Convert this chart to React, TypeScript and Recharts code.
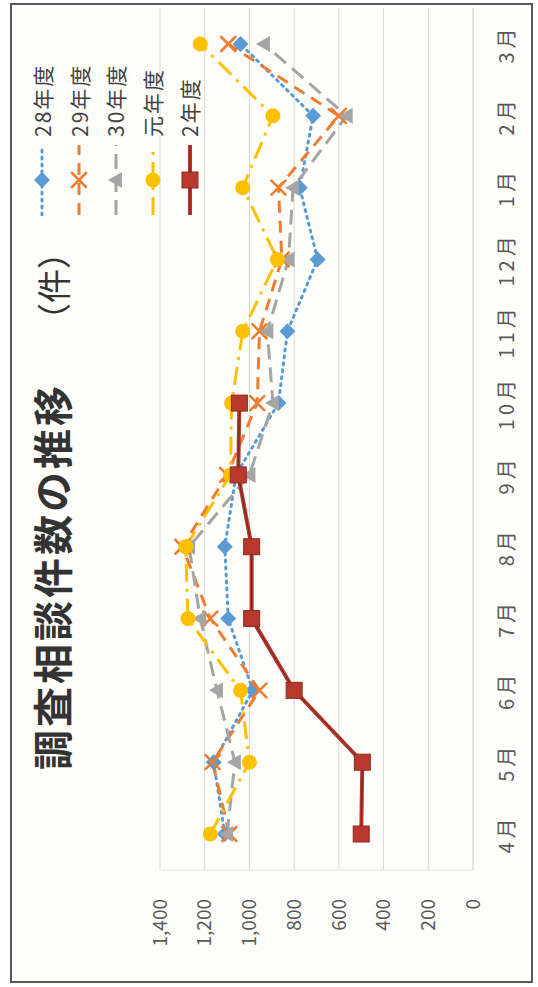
import { LineChart, Line, XAxis, YAxis, CartesianGrid } from "recharts";

// The scanned chart is rotated 90deg counter-clockwise, so it is drawn
// upright at 987x538 and then turned to fit the 538x987 page.
const W = 987;
const H = 538;
const FONT = "'Noto Sans CJK JP', 'Noto Sans', sans-serif";

const MONTHS = ["4月", "5月", "6月", "7月", "8月", "9月", "10月", "11月", "12月", "1月", "2月", "3月"];
const Y_TICKS = [0, 200, 400, 600, 800, 1000, 1200, 1400];

const FY28 = [1110, 1160, 985, 1095, 1110, 1060, 870, 830, 695, 775, 715, 1040];
const FY29 = [1090, 1165, 955, 1175, 1300, 1100, 965, 955, 855, 870, 600, 1095];
const FY30 = [1100, 1065, 1145, 1220, 1270, 1000, 895, 920, 825, 805, 565, 935];
const R1 = [1175, 1000, 1040, 1275, 1285, 1085, 1080, 1030, 875, 1030, 895, 1220];
const R2 = [500, 495, 800, 990, 990, 1050, 1045, null, null, null, null, null];

type Marker = "diamond" | "x" | "triangle" | "circle" | "square";

const SERIES: {
  key: string;
  name: string;
  color: string;
  dash?: string;
  width: number;
  marker: Marker;
}[] = [
  { key: "fy28", name: "28年度", color: "#5B9BD5", dash: "2 5", width: 3, marker: "diamond" },
  { key: "fy29", name: "29年度", color: "#ED7D31", dash: "12 8", width: 3, marker: "x" },
  { key: "fy30", name: "30年度", color: "#A5A5A5", dash: "15 8", width: 3, marker: "triangle" },
  { key: "r1", name: "元年度", color: "#FFC000", dash: "18 7 3 7", width: 3, marker: "circle" },
  { key: "r2", name: "2年度", color: "#B8382D", width: 4, marker: "square" },
];

const rows = MONTHS.map((month, i) => ({
  month,
  fy28: FY28[i],
  fy29: FY29[i],
  fy30: FY30[i],
  r1: R1[i],
  r2: R2[i],
}));

function markerShape(kind: Marker, color: string, cx: number, cy: number) {
  switch (kind) {
    case "diamond":
      return (
        <polygon
          points={`${cx},${cy - 8} ${cx + 8},${cy} ${cx},${cy + 8} ${cx - 8},${cy}`}
          fill={color}
        />
      );
    case "x":
      return (
        <g stroke={color} strokeWidth={2.6} strokeLinecap="round">
          <line x1={cx - 7} y1={cy - 7} x2={cx + 7} y2={cy + 7} />
          <line x1={cx - 7} y1={cy + 7} x2={cx + 7} y2={cy - 7} />
        </g>
      );
    case "triangle":
      return (
        <polygon
          points={`${cx},${cy - 8} ${cx + 8},${cy + 6} ${cx - 8},${cy + 6}`}
          fill={color}
        />
      );
    case "circle":
      return <circle cx={cx} cy={cy} r={7.5} fill={color} />;
    default:
      return (
        <rect
          x={cx - 8}
          y={cy - 8}
          width={16}
          height={16}
          fill={color}
          stroke="#8C2A22"
          strokeWidth={1}
        />
      );
  }
}

function makeDot(kind: Marker, color: string) {
  // eslint-disable-next-line @typescript-eslint/no-explicit-any
  return (props: any) => {
    const { cx, cy, index, value } = props;
    if (value == null || cx == null || cy == null) return <g key={index} />;
    return <g key={index}>{markerShape(kind, color, cx, cy)}</g>;
  };
}

// eslint-disable-next-line @typescript-eslint/no-explicit-any
function MonthTick(props: any) {
  const { x, y, payload } = props;
  return (
    <text
      x={x}
      y={y}
      dy="0.71em"
      textAnchor="middle"
      fill="#595959"
      fontSize={20}
      fontFamily={FONT}
      letterSpacing={4}
    >
      {payload.value}
    </text>
  );
}

function LegendBox() {
  return (
    <div style={{ position: "absolute", left: 771, top: 24 }}>
      {SERIES.map((s) => (
        <div
          key={s.key}
          style={{ display: "flex", alignItems: "center", height: 36.8 }}
        >
          <svg width={74} height={24} style={{ display: "block" }}>
            <line
              x1={1}
              y1={12}
              x2={71}
              y2={12}
              stroke={s.color}
              strokeWidth={s.width}
              strokeDasharray={s.dash}
              strokeLinecap={s.marker === "diamond" ? "round" : "butt"}
            />
            {s.marker === "square" && (
              <line x1={1} y1={12} x2={71} y2={12} stroke="#6E2520" strokeWidth={1} />
            )}
            {markerShape(s.marker, s.color, 36, 12)}
          </svg>
          <span
            style={{
              marginLeft: 5,
              fontSize: 21,
              letterSpacing: 2,
              color: "#404040",
              lineHeight: 1,
              whiteSpace: "nowrap",
            }}
          >
            {s.name}
          </span>
        </div>
      ))}
    </div>
  );
}

export default function App() {
  return (
    <div
      style={{
        position: "absolute",
        left: 0,
        top: 0,
        width: W,
        height: H,
        background: "#fff",
        transformOrigin: "0 0",
        transform: `translate(0px, ${W}px) rotate(-90deg)`,
        fontFamily: FONT,
      }}
    >
      <style>{`body { margin: 0; overflow: hidden; }`}</style>

      {/* frame */}
      <div
        style={{
          position: "absolute",
          left: 4,
          top: 10,
          width: 976,
          height: 519,
          border: "2px solid #5a5a5a",
          background: "#fdfdfa",
        }}
      />

      {/* title */}
      <div
        style={{
          position: "absolute",
          left: 217,
          top: 31,
          fontSize: 40,
          fontWeight: 700,
          letterSpacing: 3,
          lineHeight: 1,
          color: "#333",
          whiteSpace: "nowrap",
        }}
      >
        調査相談件数の推移
      </div>
      <div
        style={{
          position: "absolute",
          left: 650,
          top: 36,
          fontSize: 34,
          lineHeight: 1,
          color: "#333",
          whiteSpace: "nowrap",
        }}
      >
        （件）
      </div>

      <div style={{ position: "absolute", left: 0, top: 0 }}>
        <LineChart
          width={W}
          height={H}
          data={rows}
          margin={{ top: 160, right: 8, bottom: 0, left: 0 }}
        >
          <CartesianGrid stroke="#d9d9d9" vertical={false} />
          <XAxis
            dataKey="month"
            height={65}
            padding={{ left: 36, right: 36 }}
            axisLine={{ stroke: "#d9d9d9" }}
            tickLine={false}
            tickMargin={21}
            interval={0}
            tick={<MonthTick />}
          />
          <YAxis
            width={117}
            domain={[0, 1400]}
            ticks={Y_TICKS}
            interval={0}
            axisLine={{ stroke: "#e3e3e3" }}
            tickLine={false}
            tickMargin={23}
            tickFormatter={(v: number) => v.toLocaleString("en-US")}
            tick={{ fill: "#595959", fontSize: 19, fontFamily: FONT }}
          />
          {SERIES.map((s) => (
            <Line
              key={s.key}
              dataKey={s.key}
              name={s.name}
              type="linear"
              stroke={s.color}
              strokeWidth={s.width}
              strokeDasharray={s.dash}
              strokeLinecap={s.marker === "diamond" ? "round" : "butt"}
              dot={makeDot(s.marker, s.color)}
              activeDot={false}
              isAnimationActive={false}
            />
          ))}
          {/* dark core of the 2年度 line */}
          <Line
            dataKey="r2"
            type="linear"
            stroke="#6E2520"
            strokeWidth={1}
            dot={false}
            activeDot={false}
            legendType="none"
            isAnimationActive={false}
          />
        </LineChart>
      </div>

      <LegendBox />
    </div>
  );
}
